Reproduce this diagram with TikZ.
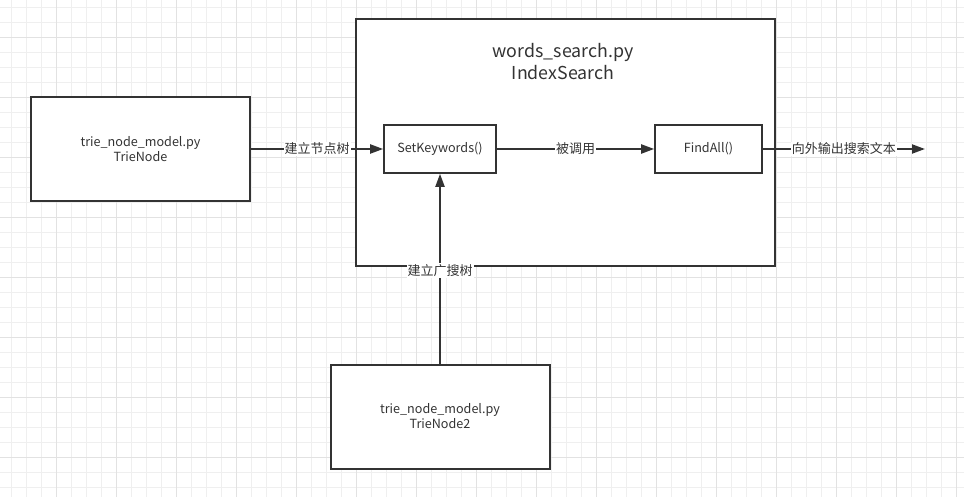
\documentclass[tikz,border=0pt]{standalone}
\usepackage{fontspec}
\setmainfont{Noto Sans CJK SC}
\usetikzlibrary{positioning, arrows.meta}

\definecolor{inkgray}{HTML}{333333}
\definecolor{gridminor}{HTML}{EFEFEF}
\definecolor{gridmajor}{HTML}{E2E2E2}

\begin{document}
\begin{tikzpicture}[
			x=1pt, y=-1pt,
			module/.style={rectangle, draw=inkgray, line width=2pt, fill=white, minimum width=219pt, minimum height=104pt, align=center, text=inkgray, font=\fontsize{12.6}{15}\selectfont},
			container/.style={rectangle, draw=inkgray, line width=2pt, fill=white, minimum width=419pt, minimum height=247pt},
			func/.style={rectangle, draw=inkgray, line width=1.6pt, fill=white, minimum height=48pt, text=inkgray, font=\fontsize{12.6}{15}\selectfont},
			flow/.style={draw=inkgray, line width=2pt, -{Triangle[length=13pt, width=9pt]}},
			edge label/.style={fill=white, inner sep=1pt, text=inkgray, font=\fontsize{13}{15}\selectfont},
			minor line/.style={draw=gridminor, line width=1pt},
			major line/.style={draw=gridmajor, line width=1pt}
			]
			
			\useasboundingbox (0,0) rectangle (964,497);
			
			% --- Background grid ---
			\foreach \gx in {11.7,26.7,...,964} \draw[minor line] (\gx,0) -- (\gx,497);
			\foreach \gy in {7.3,22.3,...,497} \draw[minor line] (0,\gy) -- (964,\gy);
			\foreach \gx in {56.7,116.7,...,964} \draw[major line] (\gx,0) -- (\gx,497);
			\foreach \gy in {37.3,97.3,...,497} \draw[major line] (0,\gy) -- (964,\gy);
			
			% --- Modules ---
			\node[module] (trienode) at (140.5,149) {trie\_node\_model.py\\TrieNode};
			\node[container] (indexsearch) at (565.5,142.5) {};
			\node[module] (trienode2) at (440,416.5) {trie\_node\_model.py\\TrieNode2};
			
			% Title of words_search.py
			\node[align=center, text=inkgray, font=\fontsize{17.8}{22}\selectfont] (title) at (563,62) {words\_search.py\\IndexSearch};
			
			% Functions inside IndexSearch
			\node[func, minimum width=112pt] (setkw) at (440,149) {SetKeywords()};
			\node[func, minimum width=107pt] (findall) at (708.5,149) {FindAll()};
			\coordinate (out) at (925,149);
			
			% --- Connectors ---
			\draw[flow] (trienode.east) -- node[edge label] {建立节点树} (setkw.west);
			\draw[flow] (setkw.east) -- node[edge label] {被调用} (findall.west);
			\draw[flow] (findall.east) -- node[edge label] {向外输出搜索文本} (out);
			\draw[flow] (trienode2.north) -- node[edge label, pos=0.49] {建立广搜树} (setkw.south);
			
		\end{tikzpicture}
\end{document}
